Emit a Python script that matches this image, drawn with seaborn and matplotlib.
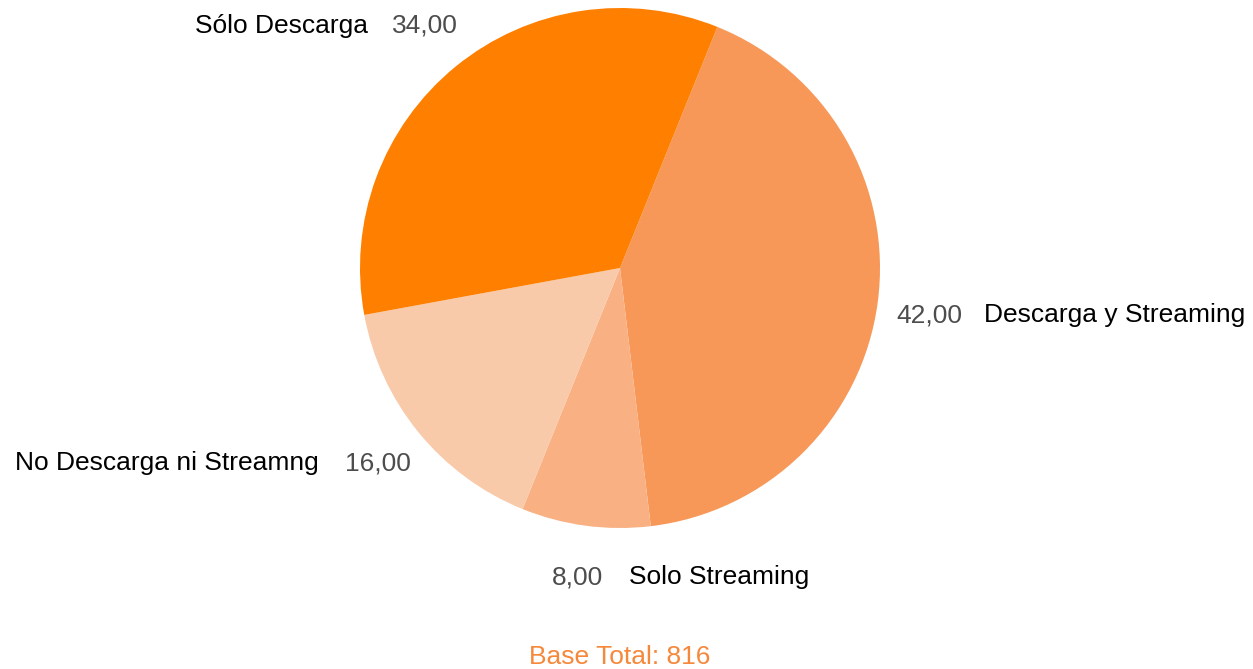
import matplotlib
matplotlib.use("Agg")
import matplotlib.pyplot as plt
import seaborn as sns

# Survey shares (percent), in clockwise drawing order
categories = ["Descarga y Streaming", "Solo Streaming", "No Descarga ni Streamng", "Sólo Descarga"]
values = [42.0, 8.0, 16.0, 34.0]
colors = ["#F79859", "#F9B184", "#F9CAAA", "#FF7F00"]
base_total = 816

sns.set_theme(style="white")
plt.rcParams["font.family"] = ["Liberation Sans", "DejaVu Sans"]

W, H = 1253, 669
fig = plt.figure(figsize=(W / 100, H / 100), dpi=100)
cx, cy, R = 620, 268, 260
ax = fig.add_axes([(cx - R) / W, (H - cy - R) / H, 2 * R / W, 2 * R / H])
ax.pie(values, colors=colors, startangle=68, counterclock=False,
       radius=1.0, wedgeprops=dict(linewidth=0))
ax.set_xlim(-1, 1)
ax.set_ylim(-1, 1)
ax.set_axis_off()

fs = 19
grey = "#4D4D4D"

def px(x, y):
    return x / W, 1 - y / H

def fmt(v):
    return f"{v:.2f}".replace(".", ",")

# label layout: (name position, name align, value position, value align)
layout = {
    "Sólo Descarga": ((368, 33), "right", (392, 33), "left"),
    "Descarga y Streaming": ((984, 322), "left", (962, 322), "right"),
    "Solo Streaming": ((629, 584), "left", (603, 584), "right"),
    "No Descarga ni Streamng": ((319, 470), "right", (345, 470), "left"),
}
for name, val in zip(categories, values):
    (nx, ny), nha, (vx, vy), vha = layout[name]
    fig.text(*px(nx, ny), name, ha=nha, va="baseline", fontsize=fs, color="black")
    fig.text(*px(vx, vy), fmt(val), ha=vha, va="baseline", fontsize=fs, color=grey)

fig.text(*px(620, 664), f"Base Total: {base_total}", ha="center", va="baseline",
         fontsize=fs, color="#F5883A")

fig.savefig("out.png", dpi=100, facecolor="white")
